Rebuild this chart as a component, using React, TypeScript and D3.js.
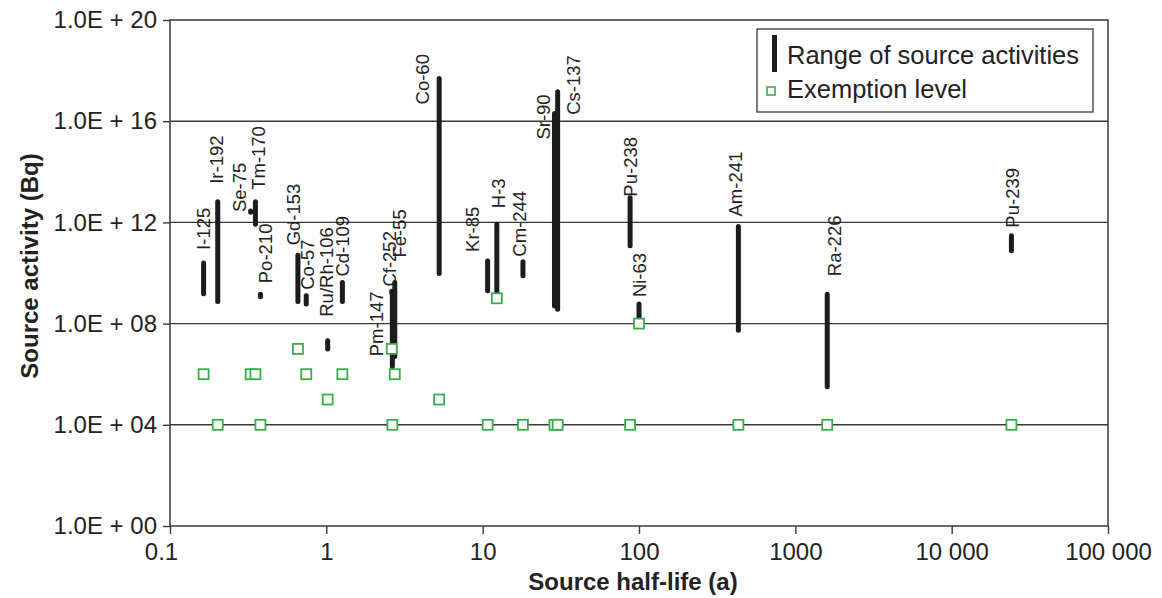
import React, { useEffect, useRef } from "react";
import * as d3 from "d3";

// source half-lives (a) and activity ranges (Bq)
const nuclides = [
  "I-125", "Ir-192", "Se-75", "Tm-170", "Po-210", "Gd-153", "Co-57", "Ru/Rh-106",
  "Cd-109", "Pm-147", "Cf-252", "Fe-55", "Co-60", "Kr-85", "H-3", "Cm-244",
  "Sr-90", "Cs-137", "Pu-238", "Ni-63", "Am-241", "Ra-226", "Pu-239",
];
const halfLives = [
  0.164, 0.202, 0.328, 0.352, 0.379, 0.658, 0.744, 1.02,
  1.267, 2.62, 2.645, 2.74, 5.27, 10.76, 12.32, 18.1,
  28.8, 30.17, 87.7, 100, 432.2, 1600, 24110,
];
const activityHigh = [
  2.5e10, 6.5e12, 2.8e12, 6.5e12, 1.45e9, 5e10, 1.26e9, 2.1e7,
  4.2e9, 1.9e9, 1.4e9, 4.2e9, 4.9e17, 3e10, 8.5e11, 2.8e10,
  2e16, 1.45e17, 9.5e12, 5.9e8, 6.9e11, 1.45e9, 3e11,
];
const activityLow = [
  1.5e9, 7.4e8, 2.5e12, 8.5e11, 1.15e9, 7.4e8, 5.9e8, 9.8e6,
  7.4e8, 1.65e9, 2e6, 5e6, 9.5e9, 2e9, 1e9, 7.8e9,
  5e8, 3.7e8, 1.2e11, 1e8, 5.5e7, 3.2e5, 7.6e10,
];
const exemptionLevels = [
  1e6, 1e4, 1e6, 1e6, 1e4, 1e7, 1e6, 1e5,
  1e6, 1e7, 1e4, 1e6, 1e5, 1e4, 1e9, 1e4,
  1e4, 1e4, 1e4, 1e8, 1e4, 1e4, 1e4,
];

const yTickValues = [1, 1e4, 1e8, 1e12, 1e16, 1e20];
const yTickLabels = ["1.0E + 00", "1.0E + 04", "1.0E + 08", "1.0E + 12", "1.0E + 16", "1.0E + 20"];
const xTickValues = [0.1, 1, 10, 100, 1000, 10000, 100000];
const xTickLabels = ["0.1", "1", "10", "100", "1000", "10 000", "100 000"];

// where each name sits relative to the top of its bar (px)
const labelNudges = [
  [0, -13], [-1, -18], [-11, 1], [3, -12], [5, -11], [-5, -10], [1, -6], [-1, -24],
  [0, -6], [-15, 65], [-3, -8], [5, -25], [-17, 26], [-15, -9], [1, -16], [-4, -5],
  [-11, 26], [16, 23], [0, -1], [0, -7], [-3, -10], [7, -18], [1, -8],
];

const FONT = "'Liberation Sans', Arial, Helvetica, sans-serif";

const App = () => {
  const ref = useRef(null);

  useEffect(() => {
    const width = 1162;
    const height = 598;
    const left = 170, right = 1108, top = 20, bottom = 526;

    const svg = d3.select(ref.current)
      .attr("width", width)
      .attr("height", height)
      .style("font-family", FONT);

    svg.selectAll("*").remove();

    const x = d3.scaleLog().domain([0.1, 1e5]).range([left, right]);
    const y = d3.scaleLog().domain([1, 1e20]).range([bottom, top]);

    svg.append("rect")
      .attr("width", width).attr("height", height).attr("fill", "#fff");

    // horizontal grid
    svg.selectAll(".grid")
      .data(yTickValues.slice(1, -1))
      .enter().append("line")
      .attr("x1", left).attr("x2", right)
      .attr("y1", d => y(d)).attr("y2", d => y(d))
      .attr("stroke", "#383838")
      .attr("stroke-width", 1.4);

    svg.append("rect")
      .attr("x", left).attr("y", top)
      .attr("width", right - left).attr("height", bottom - top)
      .attr("fill", "none")
      .attr("stroke", "#383838")
      .attr("stroke-width", 1.5);

    // activity ranges
    svg.selectAll(".bar")
      .data(nuclides)
      .enter().append("line")
      .attr("x1", (d, i) => x(halfLives[i])).attr("x2", (d, i) => x(halfLives[i]))
      .attr("y1", (d, i) => y(activityHigh[i])).attr("y2", (d, i) => y(activityLow[i]))
      .attr("stroke", "#1c1c1c")
      .attr("stroke-width", 5)
      .attr("stroke-linecap", "round");

    svg.selectAll(".name")
      .data(nuclides)
      .enter().append("text")
      .attr("transform", (d, i) =>
        `translate(${x(halfLives[i]) + labelNudges[i][0]},${y(activityHigh[i]) + labelNudges[i][1]}) rotate(-90)`)
      .attr("dy", "0.36em")
      .style("font-size", "18.5px")
      .style("fill", "#222")
      .text(d => d);

    // exemption levels
    svg.selectAll(".ex")
      .data(nuclides)
      .enter().append("rect")
      .attr("x", (d, i) => x(halfLives[i]) - 5)
      .attr("y", (d, i) => y(exemptionLevels[i]) - 5)
      .attr("width", 10).attr("height", 10)
      .attr("fill", "#fff")
      .attr("stroke", "#3aac4a")
      .attr("stroke-width", 1.8);

    // axes
    const yAxis = svg.append("g")
      .attr("transform", `translate(${left},0)`)
      .call(d3.axisLeft(y).tickValues(yTickValues).tickSize(7).tickPadding(6)
        .tickFormat((d, i) => yTickLabels[i]));
    const xAxis = svg.append("g")
      .attr("transform", `translate(0,${bottom})`)
      .call(d3.axisBottom(x).tickValues(xTickValues).tickSize(8).tickPadding(9)
        .tickFormat((d, i) => xTickLabels[i]));

    [yAxis, xAxis].forEach(g => {
      g.select(".domain").remove();
      g.selectAll("line").attr("stroke", "#383838").attr("stroke-width", 1.4);
      g.selectAll("text")
        .style("font-family", FONT)
        .style("font-size", "24px")
        .style("fill", "#222");
    });
    // first x label sits a little left of its tick in the original
    xAxis.selectAll(".tick text").filter((d, i) => i === 0).attr("x", -9);

    svg.append("text")
      .attr("x", 633).attr("y", 590)
      .attr("text-anchor", "middle")
      .style("font-size", "24px")
      .style("font-weight", "bold")
      .style("fill", "#222")
      .text("Source half-life (a)");

    svg.append("text")
      .attr("transform", "translate(30,266) rotate(-90)")
      .attr("text-anchor", "middle")
      .attr("dy", "0.35em")
      .style("font-size", "24px")
      .style("font-weight", "bold")
      .style("fill", "#222")
      .text("Source activity (Bq)");

    // legend
    const legend = svg.append("g");
    legend.append("rect")
      .attr("x", 757).attr("y", 29).attr("width", 336).attr("height", 83)
      .attr("fill", "#fff").attr("stroke", "#383838").attr("stroke-width", 1.3);
    legend.append("rect")
      .attr("x", 772).attr("y", 35).attr("width", 5).attr("height", 37)
      .attr("fill", "#1c1c1c");
    legend.append("text")
      .attr("x", 787).attr("y", 64)
      .style("font-size", "25.5px").style("fill", "#222")
      .text("Range of source activities");
    legend.append("rect")
      .attr("x", 767).attr("y", 87).attr("width", 8).attr("height", 8)
      .attr("fill", "#fff").attr("stroke", "#3aac4a").attr("stroke-width", 1.6);
    legend.append("text")
      .attr("x", 787).attr("y", 98)
      .style("font-size", "25.5px").style("fill", "#222")
      .text("Exemption level");
  }, []);

  return (
    <div style={{ position: "absolute", left: 0, top: 0 }}>
      <svg ref={ref}></svg>
    </div>
  );
};

export default App;
